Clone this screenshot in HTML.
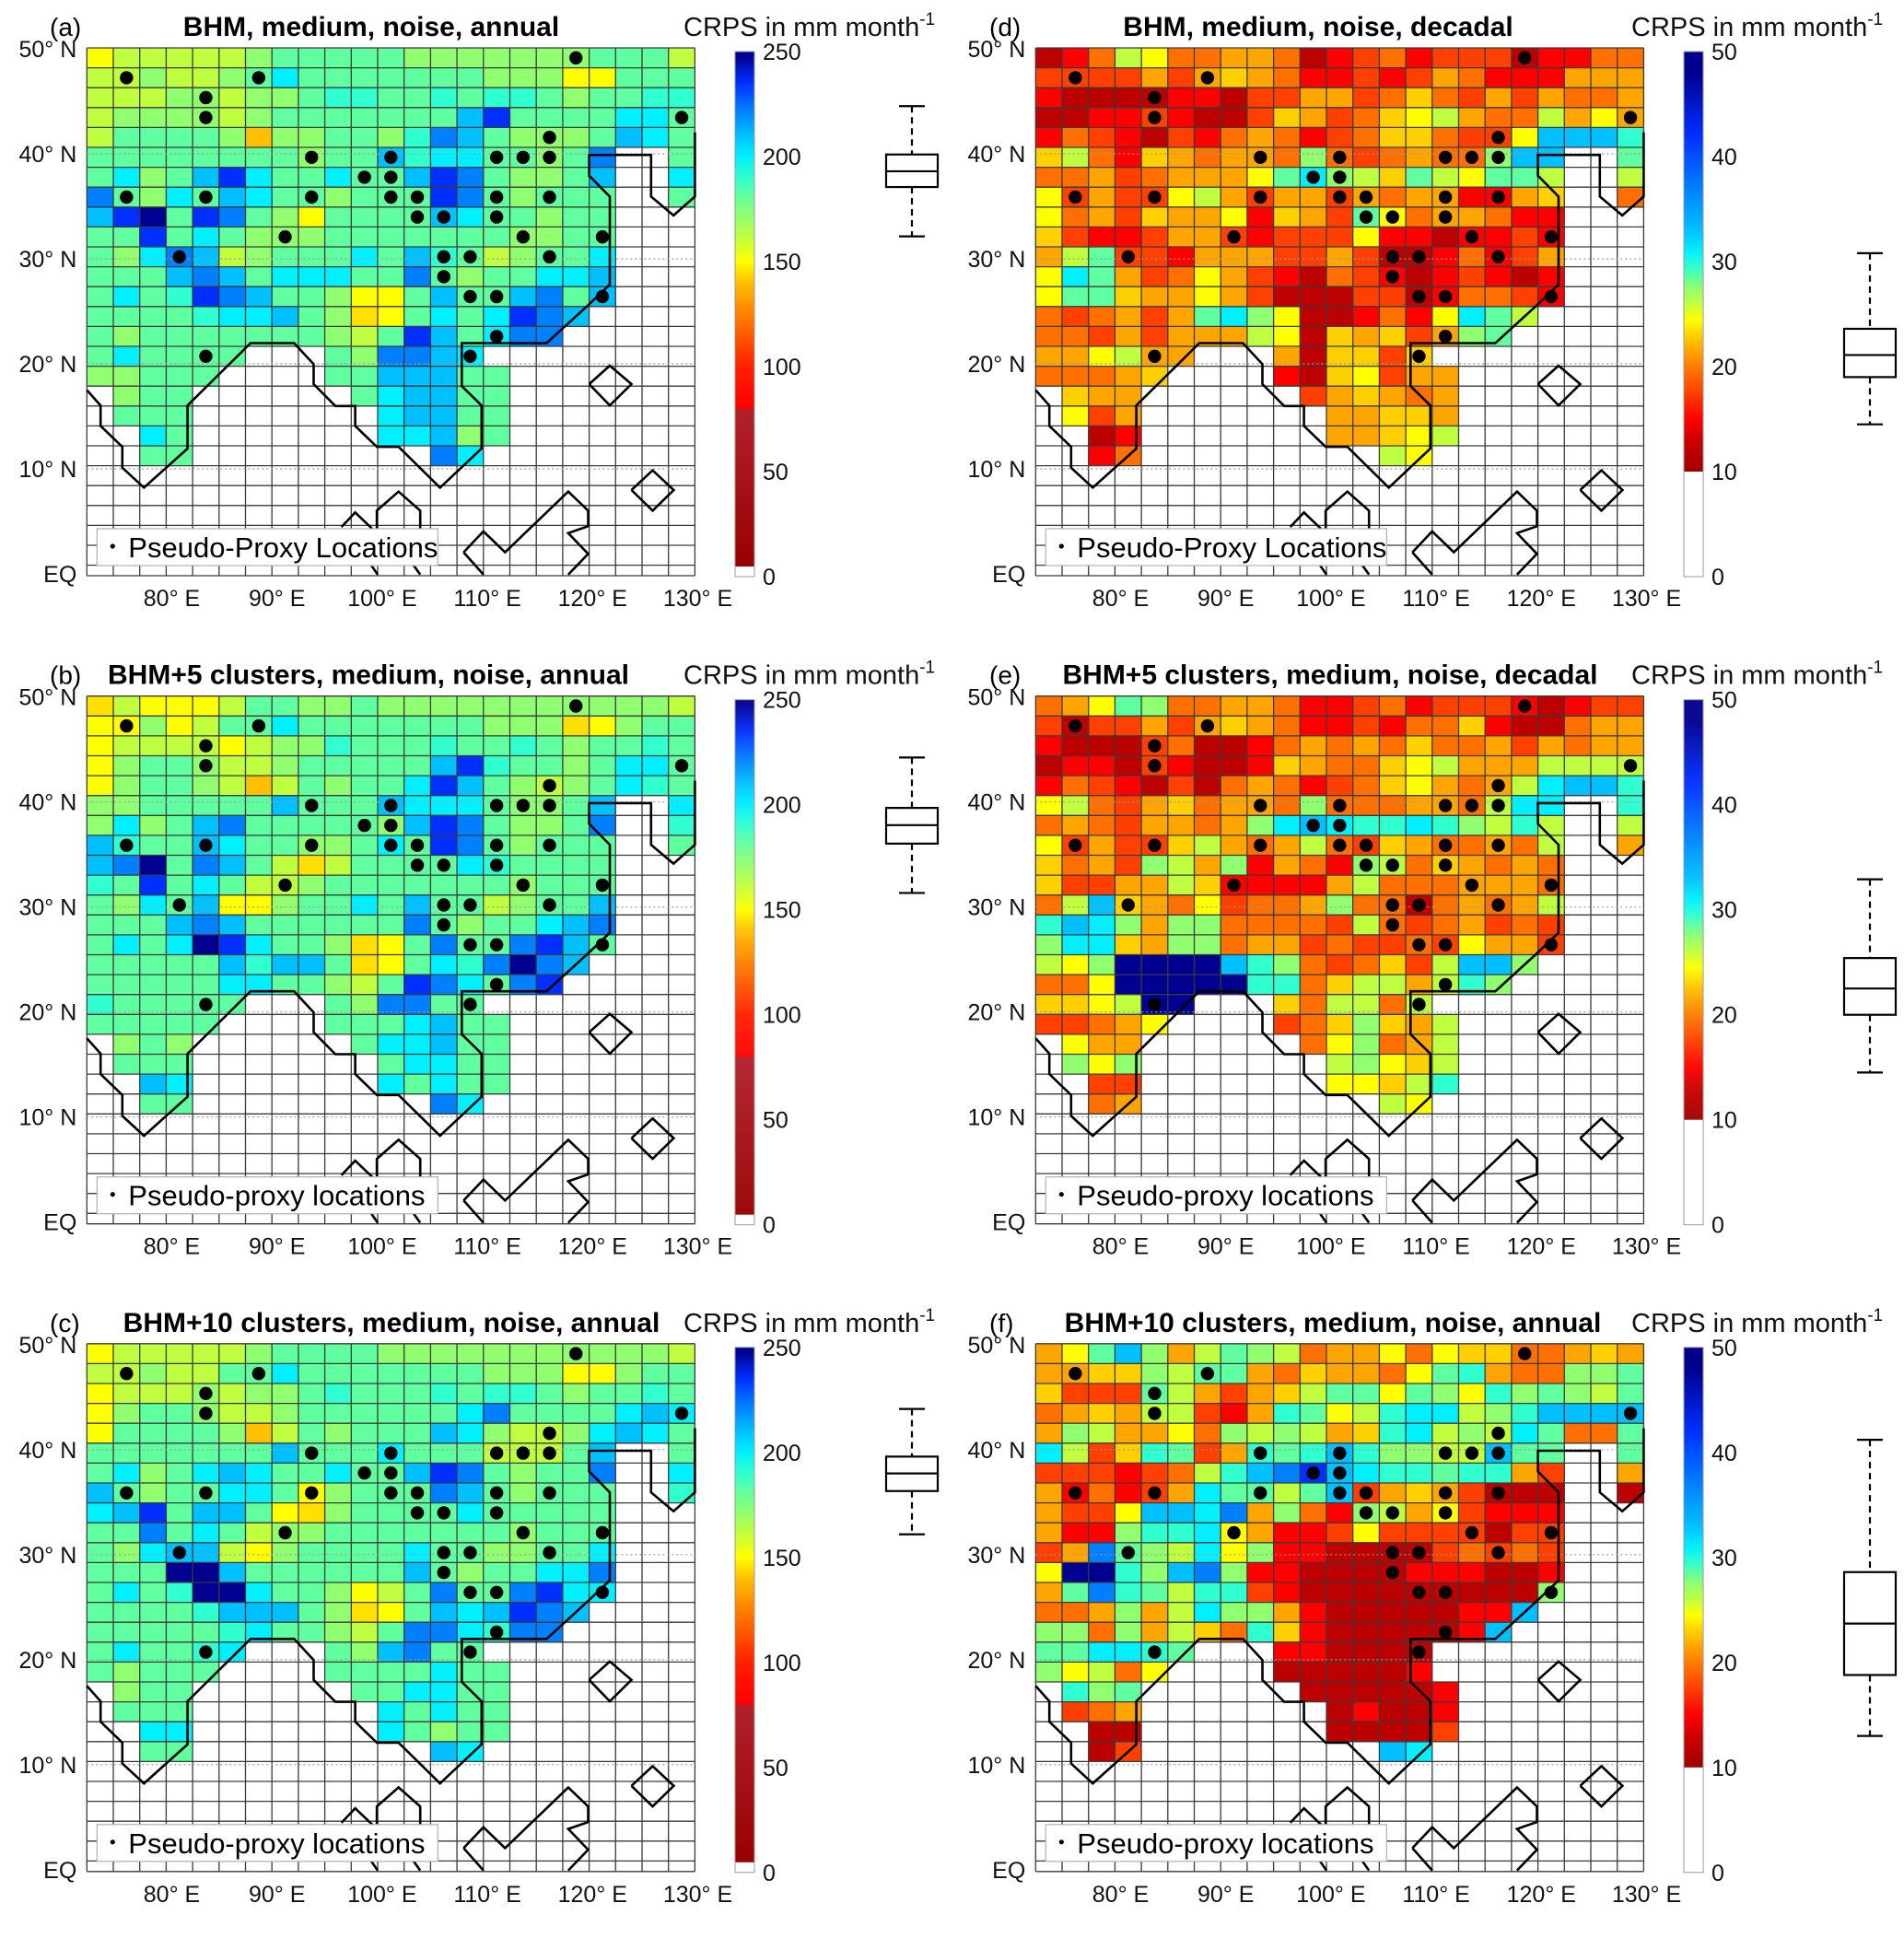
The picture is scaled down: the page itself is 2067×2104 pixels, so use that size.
<!DOCTYPE html>
<html>
<head>
<meta charset="utf-8">
<style>
html,body{margin:0;padding:0;background:#fff;}
svg{display:block;font-family:"Liberation Sans",Arial,sans-serif;}
</style>
</head>
<body>
<svg id="fig" xmlns="http://www.w3.org/2000/svg" width="2067" height="2104" viewBox="0 0 2067 2104"></svg>
<script>
// ---------- data ----------
const gridA = [
"Yyyyyygmmmmmgggggggmmmy","yygyygmcmmmmmmmgggYYmmm","yyyggyggmttmmtmttmgmmtt","yggggygmmmmmmmsBmmmmccm",
"ymmmmgaggmmgtbsmgggmscm","mmmmmmmmgmmstccmmgmb..m","mcgmsBcmmcmmsBbmggms..c","bmgcmscmmgmmmBbmgmmm..m",
"sBNmBbmgYmmmmscmmgmm...","mmBmcmgggmmmmmmmggmm","mgcbsygmmmcmstmygmmc","mmmsbsmcccmmbmgmmccs",
"mcmtBbsmmgYYmsmmsbms","mmmmtccsmgeYmcmcBbs","mgmmmmmmmgymBsmcbb","mcmmmm...mgbbsc",
"ggmmm....mmsssmm",".gmm......mcssmm",".mmm.......cssmm","..cm.......ccsgm","..mm.........bc"];
const gridB = [
"eyYYYymmggmgggggggggggy","YYgYymmcmmmmmmmgggeYgmm","YyyyyYyggtmmmtmmtmgmmtm","YgmmgyygmmmmmsBtmmgmccm",
"YgmmgyaymgmmcBsmgygmctm","ggmmmmmsmmmscccmggms..c","gcgmsbmmmmmgsBbmggmb..t","stmmscmmggmcmBbmgmmm..m",
"sbNmbsmyeymmmmctmmmm...","tmBmcmyygmmmmmmmgmmm","mgcmsYYgmmcmsmmygmms","mmmsbsmmmmmmbmgmmcsb",
"mcmcNBcmmgeYmbmmbBsm","mmmmmstssmeYmctbNbs","mmmmmccmmgymBbcmbB","tmmmmm...mgbbmm",
"mmmmm....mmmcsmm",".gmg......mccsmm",".mmm.......mccmm","..sc.......cmcmm","..mm.........bc"];
const gridC = [
"Yyyyyygmmmmgggggggggggy","yygyymmcmmmmmmmgggYYgmm","Yyyygyggmtmmmtmttmgmmtm","Ygmmgyygmmmmmmcbmmmmcsc",
"Ymmmmgaymgmmmscgyygcscm","mmmmmmmsmmmcmmmyyyms..m","mcgmcscmmcmmsBbmgmmb..c","smgmmccmYgmmmbsmgmmm..t",
"csBmssmYegmmmmcmmmmm...","mmbmcmyggmmmmmmmgmmm","mgcssyYgmmmmcmmggmmc","mmmNNsmmmmmmsmgmmccb",
"mcmtNNcmmgYymbmmbBcc","mmmmtsssmgeYmscsBbs","mmmmmtcmmgymbbctbb","mcmmtc...mgsbmm",
"mgmmm....mmmmcmm",".gmm......mmccmm",".mmm.......cmcmm","..cc.......cmgmm","..mm.........sc"];
const gridD = [
"RroyYooaaoRrOorOOORrroo","OOOOaOaeaorrOrOaorrraaa","rRRRRrrROOaaOoeoOaOaooa","RRrrOrRROeaOoeYyaooyaYa",
"roOrROroaorOoeeoOOYssst","eyoreaoaaogoOoaoogss..m","ooaOoaaaYmcgyemyYmmy..y","YOaOOYyaOaaOaoaarrae..o",
"YoaOeaaYreaOmYoaaorr...","eOrrOaaOrOOOYrrRrrOr","aymOOraaaOOaORRrorOa","YcmaOoYaOrRoOrRrOrRr",
"YmmeaaYaORRROORrooOr","oOoaOamcgYRRrorYcmy","ooOaOaaayYReaeOagm","aaYyaa...aReeOe",
"oooae....rReYOaa",".eaa......Oaeaoa",".YOa.......aaeea","..Rr.......aaeYy","..ro.........yY"];
const gridE = [
"oaYmgooaaorrOorOOOrRrOO","OROOaOaeaorrOrooerRRoaa","rRRROoRRroaoaoeooaOaoaa","RrrROrRRreaooeYyaaayyyy",
"roOrRORoaorOoeYaoaycsst","YyoOaeoaaogoooaaoycc..t","oaoOaaoagcscttctgyty..y","YOaOOeyaoayoOeaooaoy..a",
"eoaOgyagraorgyoeaoao...","eOOaayerrrrayoooaaao","oyseaoYOooagooRoaoay","tscgaggooooOyoOoaOoO",
"gcceaggoaaOoOOoOYaaO","yYgNNNNstgoOoeOyssg","ooYNNNNNttoeyyaytg","eeYyNN...eoyyoy",
"OOoaY....Ooegeay",".Yaa......oYgoay",".gYg.......ygYey","..OO.......YYeyt","..oa.........yY"];
const gridF = [
"aYmsgaymgyoaaYoYeeooaea","aaeegymmaoeaaoYmtaooggm","eOOOmyaOaeymmYmgYtgmgym","oaeayyOratmYytccygtssss",
"agyaaYogygyaetcygycmoom","cyOetmOatmtstggyysmm..m","OOOrOoytsbBscttmttaO..a","arorOacmmymsOaeaORRR..R",
"aOOYsscbagorgyaYOrrr...","arrgttcYarrOYOOOOROO","OabmgycYgrrRRRROoOoO","YNNtgsbgrrRRRRrrrRRr",
"ambtmyttOrRRRRRRRRRg","ooagaycggarRRRRRrrs","ggogayeoterRRRRRrs","mmcctm...rrRRRR",
"gYyoY....RRRRRr",".tgm......RRRRRr",".Ooa.......RrRRr","..RR.......RRRRO","..RO.........sc"];
// value of each cell code (mm/month for annual panels, decadal scale for d-f)
const annualLevels = {a:140,e:145,Y:150,y:162,g:172,m:182,t:190,c:200,s:210,b:222,B:235,N:248};
const decadalLevels = {R:12,r:15,O:17.5,o:19.5,a:21.5,e:23,Y:24.5,y:26,g:27.5,m:28.5,t:29.5,c:31,s:33,b:37,B:42,N:48};
const proxyRows = [0,1,1,2,3,3,4,5,5,5,5,5,6,6,7,7,7,7,7,7,7,8,8,8,9,9,9,10,10,10,10,11,12,12,12,14,15,15];
const proxyCols = [18,1,6,4,4,22,17,8,11,15,16,17,10,11,1,4,8,11,12,15,17,12,13,15,7,16,19,3,13,14,17,13,14,15,19,15,4,14];
// boxplot stats: [lower whisker, q1, median, q3, upper whisker]
const boxA = [162,185.5,193,201,224];
const boxB = [158,181.5,190.3,198.5,222.5];
const boxC = [161,181.6,190,198,220.7];
const boxD = [14.5,19,21.1,23.6,30.8];
const boxE = [14.5,20,22.5,25.4,32.9];
const boxF = [13,18.8,23.7,28.6,41.2];
const annualTicks = [0,50,100,150,200,250];
const decadalTicks = [0,10,20,30,40,50];
const latTicks = [50,40,30,20,10,0];
const latLabels = ["50° N","40° N","30° N","20° N","10° N","EQ"];
const lonTicks = [80,90,100,110,120,130];
const lonLabels = ["80° E","90° E","100° E","110° E","120° E","130° E"];

// ---------- colormaps ----------
const annualStops = [[0,'#ffffff'],[5,'#ffffff'],[5.01,'#990000'],[80,'#b3202c'],[80.01,'#ff0000'],[100,'#ff2000'],[125,'#ff8000'],[140,'#ffc000'],[150,'#ffff00'],[162,'#c0ff40'],[172,'#90ff70'],[182,'#60ffa0'],[190,'#30ffd0'],[200,'#00f0ff'],[210,'#00c0ff'],[222,'#0080ff'],[235,'#0030ff'],[248,'#000090'],[250,'#000088']];
const decadalStops = [[0,'#ffffff'],[10,'#ffffff'],[10.01,'#a00000'],[13,'#cc0000'],[15,'#ff0000'],[17.5,'#ff4000'],[19.5,'#ff7000'],[21.5,'#ffa500'],[23,'#ffd000'],[24.5,'#ffff00'],[26,'#c0ff40'],[27.5,'#90ff70'],[28.5,'#60ffa0'],[29.5,'#30ffd0'],[31,'#00f0ff'],[33,'#00c0ff'],[37,'#0080ff'],[42,'#0030ff'],[48,'#000090'],[50,'#000088']];
function hx(h){return [parseInt(h.substr(1,2),16),parseInt(h.substr(3,2),16),parseInt(h.substr(5,2),16)];}
function cmap(stops,v){
  if(v<=stops[0][0]) return stops[0][1];
  for(let i=0;i<stops.length-1;i++){
    const a=stops[i],b=stops[i+1];
    if(v<=b[0]){const t=(v-a[0])/(b[0]-a[0]||1);const ca=hx(a[1]),cb=hx(b[1]);
      return 'rgb('+ca.map((c,k)=>Math.round(c+(cb[k]-c)*t)).join(',')+')';}
  }
  return stops[stops.length-1][1];
}

// ---------- layout ----------
const NS='http://www.w3.org/2000/svg';
const svg=document.getElementById('fig');
const CW=28.7, CH=21.6, NC=23, GH=573, GW=NC*CW;
function el(tag,attrs,parent,txt){const e=document.createElementNS(NS,tag);for(const k in attrs)e.setAttribute(k,attrs[k]);if(txt!==undefined)e.textContent=txt;parent.appendChild(e);return e;}

const coast1=[[0,17.2],[0.52,17.97],[0.52,19.0],[1.34,20.05],[1.34,21.1],[2.16,22.1],[3.81,20.14],[3.81,17.97],[6.19,14.84],[7.84,14.84],[8.58,15.9],[8.58,16.9],[9.4,18.0],[10.15,18.0],[10.15,19.0],[10.97,20.05],[11.79,20.05],[13.36,22.1],[14.93,20.14],[14.93,17.97],[14.18,17.0],[14.18,14.84],[17.39,14.84],[18.96,12.93],[19.78,11.9],[19.78,7.47],[19.0,6.42],[19.0,5.38],[21.34,5.38],[21.34,7.47],[22.19,8.42],[23,7.47],[23,4.25]];
const shapes=[coast1,
 [[19,16.9],[19.78,15.97],[20.6,16.9],[19.78,17.97],[19,16.9]],
 [[20.6,22.22],[21.4,21.23],[22.2,22.22],[21.4,23.26],[20.6,22.22]],
 [[9.63,24.08],[10.15,23.35],[10.9,24.3]],
 [[10.97,24.2],[10.97,23.26],[11.79,22.3],[12.61,23.26],[12.61,24.6]],
 [[10.7,25.9],[11.0,26.47]],[[12.3,25.9],[12.61,26.47]],
 [[14.25,25.35],[15,24.3],[15.82,25.35],[18.21,22.3],[18.96,23.26],[18.96,24.04],[18.21,24.39],[18.96,25.43],[18.21,26.47]],
 [[14.25,25.35],[15,26.47]]];

const panels=[
 {tag:'a',grid:gridA,levels:annualLevels,stops:annualStops,ticks:annualTicks,vmax:250,box:boxA,left:94.3,top:52,title:'BHM, medium, noise, annual',tx:403,legend:'Pseudo-Proxy Locations',right:false},
 {tag:'b',grid:gridB,levels:annualLevels,stops:annualStops,ticks:annualTicks,vmax:250,box:boxB,left:94.3,top:755.7,title:'BHM+5 clusters, medium, noise, annual',tx:400,legend:'Pseudo-proxy locations',right:false},
 {tag:'c',grid:gridC,levels:annualLevels,stops:annualStops,ticks:annualTicks,vmax:250,box:boxC,left:94.3,top:1458.8,title:'BHM+10 clusters, medium, noise, annual',tx:425,legend:'Pseudo-proxy locations',right:false},
 {tag:'d',grid:gridD,levels:decadalLevels,stops:decadalStops,ticks:decadalTicks,vmax:50,box:boxD,left:1124.3,top:52,title:'BHM, medium, noise, decadal',tx:1431,legend:'Pseudo-Proxy Locations',right:true},
 {tag:'e',grid:gridE,levels:decadalLevels,stops:decadalStops,ticks:decadalTicks,vmax:50,box:boxE,left:1124.3,top:755.7,title:'BHM+5 clusters, medium, noise, decadal',tx:1444,legend:'Pseudo-proxy locations',right:true},
 {tag:'f',grid:gridF,levels:decadalLevels,stops:decadalStops,ticks:decadalTicks,vmax:50,box:boxF,left:1124.3,top:1458.8,title:'BHM+10 clusters, medium, noise, annual',tx:1447,legend:'Pseudo-proxy locations',right:true}
];

panels.forEach(p=>{
  const g=el('g',{},svg);
  
  
  const L=p.left,T=p.top;
  const ly=lat=>T+1+(50-lat)*11.4;
  const lx=lon=>L+92.2+(lon-80)*11.42;
  for(let r=0;r<27;r++){
    const row=p.grid[r]||'';
    for(let c=0;c<NC;c++){
      const ch=row[c];
      if(!ch||ch==='.') continue;
      const v=p.levels[ch];
      const h=Math.min(CH,GH-r*CH);
      const cell=el('rect',{x:L+c*CW,y:T+r*CH,width:CW+0.3,height:h+0.3,fill:cmap(p.stops,v)},g);
      
      
    }
  }
  const gl=el('g',{stroke:'#3a3a3a','stroke-width':1.3,fill:'none'},g);
  
  
  for(let r=0;r<=26;r++) el('line',{x1:L,x2:L+GW,y1:T+r*CH,y2:T+r*CH},gl);
  el('line',{x1:L,x2:L+GW,y1:T+GH,y2:T+GH},gl);
  for(let c=0;c<=NC;c++) el('line',{x1:L+c*CW,x2:L+c*CW,y1:T,y2:T+GH},gl);
  latTicks.slice(1,5).forEach(lat=>{
    const dl=el('line',{x1:L,x2:L+GW,y1:ly(lat),y2:ly(lat),stroke:'#999','stroke-width':1.2,'stroke-dasharray':'2,3'},g);
    
    
  });
  shapes.forEach(s=>{
    const pl=el('polyline',{points:s.map(q=>(L+q[0]*CW).toFixed(1)+','+(T+q[1]*CH).toFixed(1)).join(' '),fill:'none',stroke:'#000','stroke-width':2.6,'stroke-linejoin':'miter'},g);
    
    
  });
  proxyRows.forEach((r,i)=>{
    const d=el('circle',{cx:L+(proxyCols[i]+0.5)*CW,cy:T+(r+0.5)*CH,r:7.2,fill:'#000'},g);
    
    
  });
  const lg=el('g',{},g);
  
  
  el('rect',{x:L+11,y:T+522,width:370,height:40,fill:'#fff',stroke:'#b0b0b0','stroke-width':1.2},lg);
  const ld=el('circle',{cx:L+28,cy:T+541,r:2.6,fill:'#000'},lg);
  
  
  const lt=el('text',{x:L+45,y:T+553,'font-size':31,fill:'#000'},lg,p.legend);
  
  
  latTicks.forEach((lat,i)=>{
    const t=el('text',{x:L-11,y:ly(lat)+9,'font-size':25,'text-anchor':'end',fill:'#111'},g,latLabels[i]);
    
    
  });
  lonTicks.forEach((lon,i)=>{
    const t=el('text',{x:lx(lon),y:T+GH+33,'font-size':25,'text-anchor':'middle',fill:'#111'},g,lonLabels[i]);
    
    
  });
  const px=p.right?1074:54;
  const pt=el('text',{x:px,y:T-13,'font-size':28,fill:'#000'},g,'('+p.tag+')');
  
  
  const tt=el('text',{x:p.tx,y:T-13,'font-size':30,'font-weight':'bold','text-anchor':'middle',fill:'#000'},g,p.title);
  
  
  const cx0=p.right?1771:742;
  const ct=el('text',{x:cx0,y:T-13,'font-size':29,fill:'#111'},g,'CRPS in mm month');
  
  
  el('tspan',{dy:-12,'font-size':19},ct,'-1');
  const cbx=p.right?1828:798, cbw=21, cbTop=T+4, cbH=570;
  const cyv=v=>cbTop+(1-v/p.vmax)*cbH;
  const cb=el('g',{},g);
  
  
  for(let k=0;k<cbH;k++){
    const v=p.vmax*(1-(k+0.5)/cbH);
    el('rect',{x:cbx,y:cbTop+k,width:cbw,height:1.2,fill:cmap(p.stops,v)},cb);
  }
  el('rect',{x:cbx,y:cbTop,width:cbw,height:cbH,fill:'none',stroke:'#9a9a9a','stroke-width':1},cb);
  p.ticks.forEach(v=>{
    const t=el('text',{x:cbx+cbw+9,y:cyv(v)+9,'font-size':25,fill:'#111'},cb,String(v));
    
    
  });
  const bx=p.right?2030:990, bw=28, cap=14;
  const bg=el('g',{stroke:'#000','stroke-width':2.2,fill:'none'},g);
  
  
  const b=p.box;
  el('line',{x1:bx,x2:bx,y1:cyv(b[4]),y2:cyv(b[3]),'stroke-dasharray':'7,5'},bg);
  el('line',{x1:bx,x2:bx,y1:cyv(b[1]),y2:cyv(b[0]),'stroke-dasharray':'7,5'},bg);
  el('line',{x1:bx-cap,x2:bx+cap,y1:cyv(b[4]),y2:cyv(b[4])},bg);
  el('line',{x1:bx-cap,x2:bx+cap,y1:cyv(b[0]),y2:cyv(b[0])},bg);
  el('rect',{x:bx-bw,y:cyv(b[3]),width:2*bw,height:cyv(b[1])-cyv(b[3]),fill:'#fff'},bg);
  el('line',{x1:bx-bw,x2:bx+bw,y1:cyv(b[2]),y2:cyv(b[2])},bg);
});
</script>
</body>
</html>
